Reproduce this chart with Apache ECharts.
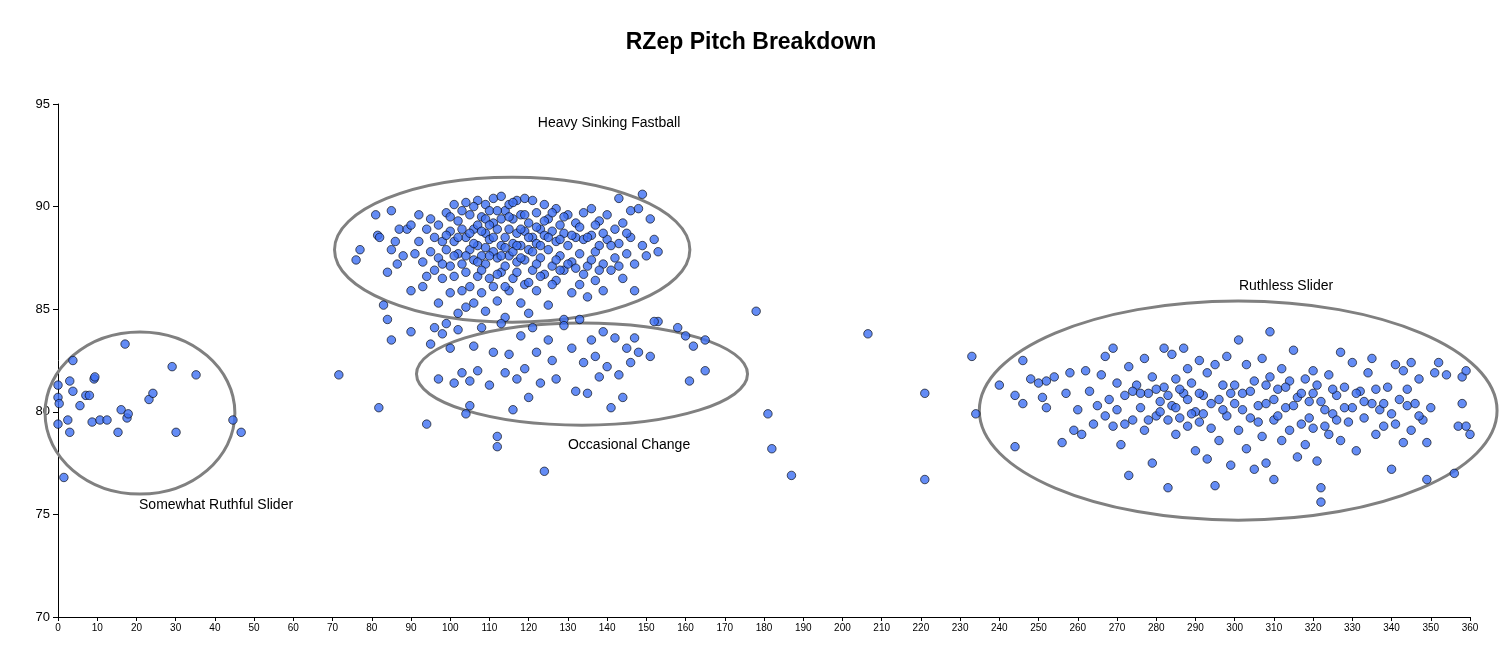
<!DOCTYPE html>
<html>
<head>
<meta charset="utf-8">
<script src="https://cdn.jsdelivr.net/npm/echarts@6/dist/echarts.min.js"></script>
<style>html,body{margin:0;padding:0;background:#fff}#main{width:1502px;height:645px}</style>
</head>
<body>
<div id="main"></div>
<script>
var chartTitle = "RZep Pitch Breakdown";
var xTicks = { min: 0, max: 360, interval: 10 };
var yTicks = { min: 70, max: 95, interval: 5 };

var somewhatSlider = [[0,81.3],[0,80.7],[0.3,80.4],[0,79.4],[1.5,76.8],[2.5,79.6],[3,81.5],[3.8,82.5],[3.8,81],[3,79],
  [5.6,80.3],[7.1,80.8],[8,80.8],[9.2,81.6],[9.4,81.7],[8.7,79.5],[10.7,79.6],[12.5,79.6],[15.3,79],[16.1,80.1],
  [17.1,83.3],[17.6,79.7],[17.9,79.9],[23.2,80.6],[24.2,80.9],[29.1,82.2],[30.1,79],[35.2,81.8],[44.6,79.6],[46.7,79]];

var fastball = [[76,87.4],[77,87.9],[81,89.6],[81.5,88.6],[82,88.5],[84,86.8],[85,87.9],[85,89.8],[86,88.3],[86.5,87.2],
  [87,88.9],[88,87.6],[89,88.9],[90,85.9],[90,89.1],[91,87.7],[92,89.6],[92,88.3],[93,87.3],[93,86.1],
  [94,88.9],[94,86.6],[95,89.4],[95,87.8],[96,88.5],[96,86.9],[97,89.1],[97,87.5],[97,85.3],[98,88.3],
  [98,86.5],[99,89.7],[99,87.9],[100,88.8],[100,87.1],[100,85.8],[101,90.1],[101,88.3],[101,86.6],[102,89.3],
  [102,87.7],[102,84.8],[103,88.9],[103,87.2],[103,85.9],[104,90.2],[104,88.5],[104,86.8],[105,89.6],[105,87.9],
  [105,86.1],[106,88.9],[106,87.4],[106,85.3],[107,90.3],[107,89.1],[107,88.1],[107,86.6],[108,89.5],[108,87.6],
  [108,85.8],[109,90.1],[109,88.7],[109,87.2],[109,84.9],[110,89.8],[110,88.4],[110,86.5],[111,90.4],[111,89.2],
  [111,87.8],[111,86.1],[112,88.9],[112,87.5],[112,85.4],[113,90.5],[113,89.4],[113,88.1],[113,86.8],[114,89.8],
  [114,88.5],[114,87.1],[114,84.6],[115,90.1],[115,88.9],[115,87.6],[115,85.9],[116,89.4],[116,88.2],[116,86.5],
  [117,90.3],[117,88.7],[117,87.3],[118,89.6],[118,88.1],[118,85.3],[119,90.4],[119,88.8],[119,87.4],[119,86.2],
  [120,89.2],[120,87.9],[120,84.8],[121,90.3],[121,88.5],[121,86.9],[122,89.7],[122,88.2],[122,85.9],[123,88.9],
  [123,87.5],[124,90.1],[124,88.6],[124,86.7],[125,89.4],[125,87.9],[125,85.2],[126,88.8],[126,87.1],[127,89.9],
  [127,88.3],[127,86.4],[128,89.1],[128,87.6],[129,88.7],[129,86.9],[129,84.5],[130,89.6],[130,88.1],[131,87.3],
  [131,85.8],[132,89.2],[132,88.5],[133,87.7],[133,86.2],[134,89.7],[134,88.4],[135,87.1],[135,85.6],[136,89.9],
  [136,88.6],[137,87.8],[137,86.4],[138,89.3],[138,88.1],[139,87.2],[139,85.9],[140,89.6],[140,88.4],[141,86.9],
  [142,88.9],[142,87.5],[143,90.4],[143,88.2],[144,86.5],[144,89.2],[145,87.7],[146,89.8],[146,88.5],[147,87.2],
  [147,85.9],[148,89.9],[149,90.6],[149,88.1],[150,87.6],[151,89.4],[152,88.4],[153,87.8],[153,84.4],
  [98,87.2],[99,88.6],[100,89.5],[101,87.6],[102,88.5],[103,89.8],[104,87.6],[105,88.7],[106,90],[106,88.2],
  [107,87.3],[108,88.8],[108,86.9],[109,89.4],[109,88],[110,87.6],[110,89.1],[111,88.5],[112,89.8],[112,86.7],
  [113,87.6],[114,88],[114,86.1],[115,89.5],[116,87.8],[116,90.2],[117,88.1],[117,86.8],[118,88.9],[118,87.5],
  [119,89.6],[120,88.5],[120,86.3],[121,87.8],[122,89],[122,87.2],[123,88.1],[123,86.6],[124,89.3],[125,88.5],
  [126,89.7],[126,86.2],[127,87.4],[128,88.4],[128,86.9],[129,89.5],[130,87.2],[131,88.6],[132,87],[133,89],
  [134,86.7],[135,88.5],[136,87.4],[137,89.1],[138,86.9],[139,88.7],[141,88.1],[143,87.1],[145,88.7],[104,85.1]];

var change = [[83,85.2],[84,84.5],[85,83.5],[90,83.9],[94,79.4],[95,83.3],[96,84.1],[97,81.6],[98,83.8],[99,84.3],
  [100,83.1],[101,81.4],[102,84],[103,81.9],[104,79.9],[105,81.5],[105,80.3],[106,83.2],[107,82],[108,84.1],
  [110,81.3],[111,82.9],[112,78.3],[112,78.8],[113,84.3],[114,81.9],[115,82.8],[116,80.1],[117,81.6],[118,83.7],
  [119,82.1],[120,80.7],[121,84.1],[122,82.9],[123,81.4],[124,77.1],[125,83.5],[126,82.5],[127,81.6],[129,84.2],
  [131,83.1],[132,81],[133,84.5],[134,82.4],[135,80.9],[136,83.5],[137,82.7],[138,81.7],[139,83.9],[140,82.2],
  [141,80.2],[142,83.6],[143,81.8],[144,80.7],[145,83.1],[146,82.4],[147,83.6],[148,82.9],[151,82.7],[152,84.4],
  [158,84.1],[160,83.7],[161,81.5],[162,83.2],[165,83.5],[165,82]];

var outliers = [[71.6,81.8],[81.8,80.2],[178,84.9],[181,79.9],[182,78.2],[187,76.9],[206.5,83.8],[221,80.9],[221,76.7],
  [233,82.7],[234,79.9]];

var ruthlessSlider = [[240,81.3],[244,78.3],[244,80.8],[246,82.5],[246,80.4],[248,81.6],[250,81.4],[251,80.7],[252,81.5],[252,80.2],
  [254,81.7],[256,78.5],[257,80.9],[258,81.9],[259,79.1],[260,80.1],[261,78.9],[262,82],[263,81],[264,79.4],
  [265,80.3],[266,81.8],[267,79.8],[267,82.7],[268,80.6],[269,83.1],[269,79.3],[270,81.4],[271,78.4],[272,80.8],
  [273,82.2],[273,76.9],[274,79.6],[275,81.3],[276,80.2],[277,82.6],[277,79.1],[278,80.9],[279,81.7],[279,77.5],
  [280,79.8],[281,80.5],[282,83.1],[282,81.2],[283,79.6],[283,76.3],[284,82.8],[284,80.3],[285,81.6],[285,78.9],
  [286,79.7],[287,83.1],[287,80.9],[288,82.1],[288,79.3],[289,81.4],[290,80],[290,78.1],[291,82.5],[291,79.5],
  [292,80.8],[293,81.9],[293,77.7],[294,79.2],[295,82.3],[295,76.4],[296,80.6],[296,78.6],[297,81.3],[298,79.8],
  [298,82.7],[299,77.4],[300,80.4],[300,81.3],[301,83.5],[301,79.1],[302,80.9],[303,82.3],[303,78.2],[304,79.7],
  [305,81.5],[305,77.2],[306,80.3],[307,82.6],[307,78.8],[308,80.4],[308,77.5],[309,81.7],[309,83.9],[310,79.6],
  [310,76.7],[311,81.1],[312,82.1],[312,78.6],[313,80.2],[314,81.5],[314,79.1],[315,83],[316,80.7],[316,77.8],
  [317,79.4],[318,81.6],[318,78.4],[319,80.5],[320,82],[320,79.2],[321,81.3],[321,77.6],[322,76.3],[322,75.6],
  [323,80.1],[324,81.8],[324,78.9],[325,79.9],[326,80.8],[327,82.9],[327,78.6],[328,81.2],[329,79.5],[330,80.2],
  [330,82.4],[331,78.1],[332,81],[333,79.7],[334,81.9],[335,80.4],[335,82.6],[336,78.9],[337,80.1],[338,79.3],
  [339,81.2],[340,77.2],[340,79.9],[341,82.3],[342,80.6],[343,78.5],[343,82],[344,80.3],[345,79.1],[345,82.4],
  [346,80.4],[347,81.6],[348,79.6],[349,78.5],[349,76.7],[350,80.2],[351,81.9],[352,82.4],[354,81.8],[356,77],
  [357,79.3],[358,81.7],[358,80.4],[359,82],[359,79.3],[360,78.9],
  [270,80.1],[272,79.4],[274,81],[276,80.9],[278,79.6],[280,81.1],[281,80],[283,80.8],[285,80.2],[286,81.1],
  [288,80.6],[289,79.9],[291,80.9],[292,79.9],[294,80.4],[297,80.1],[299,80.9],[302,80.1],[304,81],[306,79.5],
  [308,81.3],[310,80.6],[311,79.8],[313,81.2],[315,80.3],[317,80.9],[319,79.7],[320,80.9],[322,80.5],[323,79.3],
  [325,81.1],[326,79.6],[328,80.2],[331,80.9],[333,80.5],[336,81.1],[338,80.4],[341,79.4],[344,81.1],[347,79.8]];

// ellipse groups: [cx, cy, rx, ry] in data units
var ellipses = [[20.9,79.94,24.2,3.95],[115.8,87.9,45.3,3.53],[133.6,81.84,42.2,2.49],[300.9,80.06,66,5.34]];
var labels = [["Heavy Sinking Fastball",140.5,94.07],["Ruthless Slider",313.1,86.13],
  ["Occasional Change",145.6,78.38],["Somewhat Ruthful Slider",40.3,75.46]];

var myChart = echarts.init(document.getElementById('main'));
var pointStyle = { color: '#3d6ff2', borderColor: '#000', borderWidth: 0.8 };
function pts(d) {
    return { type: 'scatter', data: d, symbolSize: 8.5, itemStyle: pointStyle, z: 3 };
}
var option = {
    backgroundColor: '#fff',
    animation: false,
    title: {
        text: chartTitle, left: 'center', top: 26,
        textStyle: { fontFamily: 'Liberation Sans', fontWeight: 'bold', fontSize: 23, color: '#000' }
    },
    grid: { left: 58, right: 32, top: 104, bottom: 28 },
    xAxis: {
        type: 'value', min: xTicks.min, max: xTicks.max, interval: xTicks.interval,
        axisLine: { lineStyle: { color: '#000' } },
        axisTick: { lineStyle: { color: '#000' }, length: 4 },
        axisLabel: { fontSize: 10, color: '#000', fontFamily: 'Liberation Sans', margin: 6 },
        splitLine: { show: false }
    },
    yAxis: {
        type: 'value', min: yTicks.min, max: yTicks.max, interval: yTicks.interval,
        axisLine: { show: true, lineStyle: { color: '#000' } },
        axisTick: { show: true, lineStyle: { color: '#000' }, length: 5 },
        axisLabel: { fontSize: 13, color: '#000', fontFamily: 'Liberation Sans' },
        splitLine: { show: false }
    },
    series: [
        pts(somewhatSlider), pts(fastball), pts(change), pts(outliers), pts(ruthlessSlider),
        {
            type: 'custom', data: ellipses, z: 2, silent: true,
            renderItem: function (params, api) {
                var c = api.coord([api.value(0), api.value(1)]);
                var e = api.coord([api.value(0) + api.value(2), api.value(1) + api.value(3)]);
                return {
                    type: 'ellipse',
                    shape: { cx: c[0], cy: c[1], rx: Math.abs(e[0] - c[0]), ry: Math.abs(c[1] - e[1]) },
                    style: { fill: 'none', stroke: '#808080', lineWidth: 3 }
                };
            }
        },
        {
            type: 'custom', data: labels, z: 4, silent: true,
            encode: { x: 1, y: 2 },
            renderItem: function (params, api) {
                var c = api.coord([api.value(1), api.value(2)]);
                return {
                    type: 'text',
                    style: { x: c[0], y: c[1], text: labels[params.dataIndex][0], textAlign: 'center',
                        textVerticalAlign: 'middle', font: '14px "Liberation Sans"', fill: '#000' }
                };
            }
        }
    ]
};
myChart.setOption(option);
</script>
</body>
</html>
